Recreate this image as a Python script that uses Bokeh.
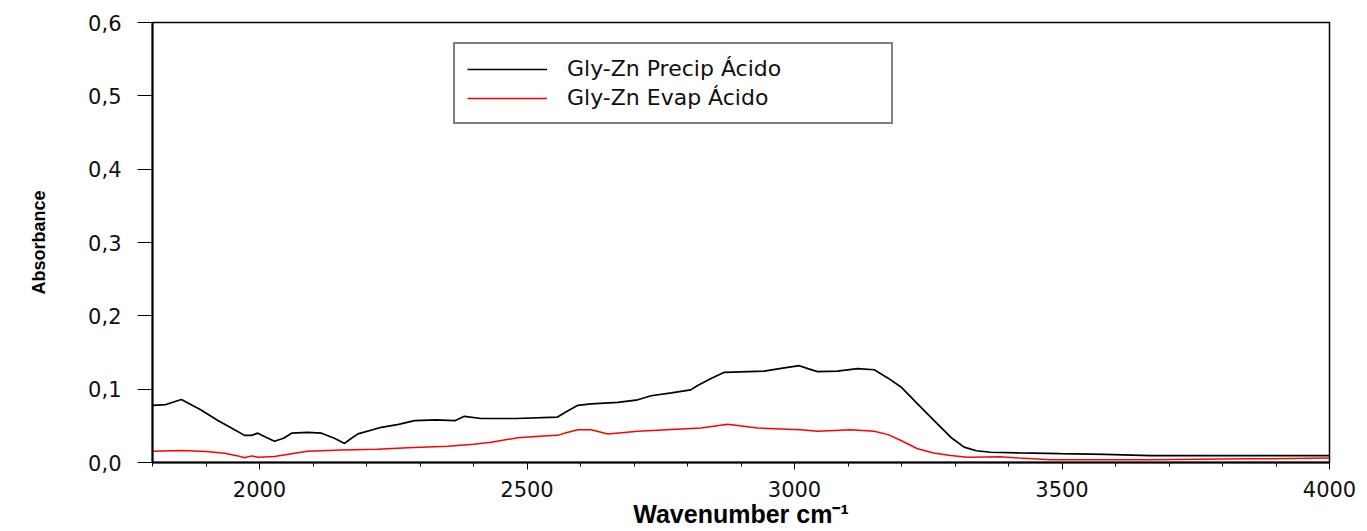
from bokeh.plotting import figure
from bokeh.models import Legend, LegendItem, SingleIntervalTicker, FixedTicker, CustomJSTickFormatter, Range1d
from bokeh.embed import file_html
from bokeh.resources import INLINE

# Data
precip_wn = [1800, 1825, 1854, 1890, 1923, 1950, 1972, 1985, 1997, 2010, 2028, 2045, 2060, 2090,
             2116, 2140, 2159, 2170, 2184, 2228, 2260, 2290, 2330, 2365, 2383, 2414, 2480, 2557,
             2575, 2595, 2620, 2670, 2707, 2732, 2770, 2806, 2819, 2845, 2869, 2943, 2981, 3009,
             3025, 3043, 3080, 3118, 3149, 3175, 3199, 3230, 3261, 3292, 3317, 3340, 3367, 3420,
             3497, 3580, 3665, 3800, 3900, 4000]
precip_abs = [0.078, 0.079, 0.086, 0.072, 0.057, 0.046, 0.037, 0.037, 0.040, 0.035, 0.029, 0.033,
              0.040, 0.041, 0.040, 0.033, 0.026, 0.032, 0.039, 0.048, 0.052, 0.057, 0.058, 0.057,
              0.063, 0.060, 0.060, 0.062, 0.070, 0.078, 0.080, 0.082, 0.0855, 0.091, 0.095, 0.099,
              0.105, 0.115, 0.123, 0.1245, 0.129, 0.132, 0.128, 0.124, 0.1245, 0.128, 0.1265,
              0.115, 0.103, 0.080, 0.057, 0.0345, 0.021, 0.016, 0.014, 0.013, 0.012, 0.011,
              0.0095, 0.0095, 0.0095, 0.0095]

evap_wn = [1800, 1854, 1900, 1935, 1960, 1972, 1985, 1997, 2028, 2060, 2090, 2153, 2220, 2277,
           2352, 2400, 2433, 2483, 2530, 2557, 2575, 2595, 2620, 2651, 2707, 2770, 2825, 2875,
           2931, 3012, 3043, 3105, 3149, 3175, 3199, 3230, 3260, 3292, 3323, 3385, 3420, 3479,
           3665, 3850, 4000]
evap_abs = [0.0154, 0.0164, 0.015, 0.0127, 0.009, 0.0064, 0.009, 0.0073, 0.0082, 0.012, 0.0154,
            0.017, 0.018, 0.020, 0.022, 0.025, 0.0277, 0.0337, 0.036, 0.037, 0.041, 0.0446,
            0.0446, 0.039, 0.0427, 0.045, 0.047, 0.052, 0.047, 0.0446, 0.0427, 0.0446, 0.0427,
            0.038, 0.030, 0.0187, 0.013, 0.0095, 0.0073, 0.008, 0.006, 0.0036, 0.0036, 0.005,
            0.006]

series_names = ["Gly-Zn Precip \u00c1cido", "Gly-Zn Evap \u00c1cido"]
series_colors = ["#000000", "#ff0000"]
y_ticks = [0.0, 0.1, 0.2, 0.3, 0.4, 0.5, 0.6]

p = figure(width=1367, height=531, output_backend="svg", toolbar_location=None,
           x_range=Range1d(1800, 4000), y_range=Range1d(0, 0.6),
           min_border_left=152, min_border_right=38, min_border_top=22, min_border_bottom=69)

r1 = p.line(precip_wn, precip_abs, line_color=series_colors[0], line_width=1.7)
r2 = p.line(evap_wn, evap_abs, line_color=series_colors[1], line_width=1.5)

p.xgrid.visible = False
p.ygrid.visible = False
p.outline_line_color = "#000000"
p.outline_line_width = 1.5
p.background_fill_color = "white"
p.border_fill_color = "white"

font = "DejaVu Sans"
# x axis
xa = p.xaxis[0]
xa.ticker = SingleIntervalTicker(interval=500, num_minor_ticks=5)
xa.axis_line_width = 2
xa.major_tick_out = 7
xa.major_tick_in = 0
xa.minor_tick_out = 4
xa.minor_tick_in = 0
xa.major_label_standoff = 11
xa.major_label_text_font = font
xa.major_label_text_font_size = "21px"
xa.major_label_text_color = "#101010"
xa.axis_label = "Wavenumber cm\u207b\u00b9"
xa.axis_label_text_font = "Liberation Sans"
xa.axis_label_text_font_style = "bold"
xa.axis_label_text_font_size = "25px"
xa.axis_label_text_color = "#000000"
xa.axis_label_standoff = 0

# y axis
ya = p.yaxis[0]
ya.ticker = FixedTicker(ticks=y_ticks)
ya.axis_line_width = 2
ya.major_tick_out = 15
ya.major_tick_in = 0
ya.minor_tick_out = 0
ya.minor_tick_in = 0
ya.major_label_standoff = 16
ya.major_label_text_font = font
ya.major_label_text_font_size = "21px"
ya.major_label_text_color = "#101010"
ya.formatter = CustomJSTickFormatter(code="return tick.toFixed(1).replace('.', ',');")
ya.axis_label = "Absorbance"
ya.axis_label_text_font = "Liberation Sans"
ya.axis_label_text_font_style = "bold"
ya.axis_label_text_font_size = "18px"
ya.axis_label_text_color = "#000000"
ya.axis_label_standoff = 36

legend = Legend(items=[LegendItem(label=series_names[0], renderers=[r1]),
                       LegendItem(label=series_names[1], renderers=[r2])],
                location=(301, 338), orientation="vertical",
                padding=12, spacing=4, glyph_height=20, glyph_width=80,
                label_standoff=20, label_width=312, label_height=20,
                label_text_font=font, label_text_font_size="22px", label_text_color="#101010",
                border_line_color="#000000", border_line_width=2,
                background_fill_color="white", background_fill_alpha=1.0, margin=0)
p.add_layout(legend, "center")

open("out.html", "w").write(file_html(p, INLINE))
